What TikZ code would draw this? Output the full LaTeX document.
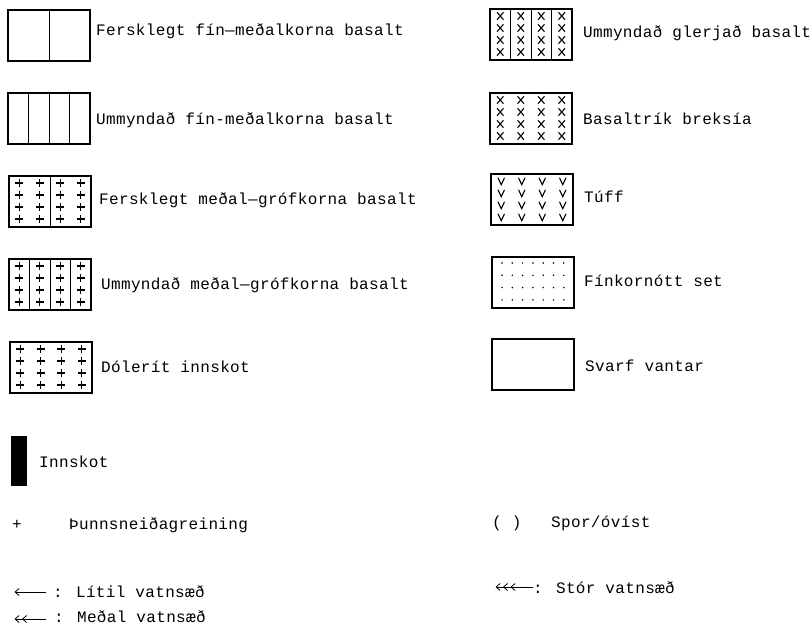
\documentclass[tikz,border=0pt]{standalone}
\usepackage{fontspec}
\newfontfamily\plotfont{Liberation Mono}[LetterSpace=2.2]
\newcommand{\legfont}{\plotfont\fontsize{16}{19}\selectfont}
\usepackage{tikz}
\usetikzlibrary{arrows.meta,calc}

\begin{document}
\begin{tikzpicture}[x=1pt,y=-1pt,
    legbox/.style={draw, line width=1.1pt, minimum width=82pt, minimum height=51pt,
      inner sep=0pt, outer sep=0pt, anchor=north west},
    lbl/.style={font=\legfont, inner sep=0pt, anchor=base west},
    divline/.style={line width=0.8pt},
    flowline/.style={line width=0.8pt},
    vbarb/.tip={Straight Barb[length=4pt,width=7pt,sep=2.5pt]},
    plusmk/.pic={\draw[line width=1.1pt] (-4,0) -- (4,0) (0,-4) -- (0,4);},
    crossmk/.pic={\draw[line width=1.1pt] (-3.2,-3.7) -- (3.2,3.7) (-3.2,3.7) -- (3.2,-3.7);},
    veemk/.pic={\draw[line width=1.1pt] (-3.2,-3.2) -- (0,3.7) -- (3.2,-3.2);},
    dotmk/.pic={\fill (0,0) circle (0.85);}]
\useasboundingbox (0,0) rectangle (812,631);

% Left column
\node[legbox] (ferskfin) at (8,10) {};
\draw[divline] (ferskfin.north) -- (ferskfin.south);
\node[lbl] (ferskfin-txt) at (96,36) {Fersklegt fín—meðalkorna basalt};

\node[legbox] (ummfin) at (8,93) {};
\foreach \k in {1,2,3}
  \draw[divline] ($(ummfin.north west)+(20.5*\k,0)$) -- ($(ummfin.south west)+(20.5*\k,0)$);
\node[lbl] (ummfin-txt) at (96,125) {Ummyndað fín-meðalkorna basalt};

\node[legbox] (ferskgrof) at (9,176) {};
\draw[divline] (ferskgrof.north) -- (ferskgrof.south);
\foreach \i in {0,...,3}
  \foreach \j in {0,...,3}
    \pic at ($(ferskgrof.north west)+(10.25+20.5*\i,7+12*\j)$) {plusmk};
\node[lbl] (ferskgrof-txt) at (99,205) {Fersklegt meðal—grófkorna basalt};

\node[legbox] (ummgrof) at (9,259) {};
\foreach \k in {1,2,3}
  \draw[divline] ($(ummgrof.north west)+(20.5*\k,0)$) -- ($(ummgrof.south west)+(20.5*\k,0)$);
\foreach \i in {0,...,3}
  \foreach \j in {0,...,3}
    \pic at ($(ummgrof.north west)+(10.25+20.5*\i,7+12*\j)$) {plusmk};
\node[lbl] (ummgrof-txt) at (101,290) {Ummyndað meðal—grófkorna basalt};

\node[legbox] (dolerit) at (10,342) {};
\foreach \i in {0,...,3}
  \foreach \j in {0,...,3}
    \pic at ($(dolerit.north west)+(10.25+20.5*\i,7+12*\j)$) {plusmk};
\node[lbl] (dolerit-txt) at (101,373) {Dólerít innskot};

% Right column
\node[legbox] (ummgler) at (490,9) {};
\foreach \k in {1,2,3}
  \draw[divline] ($(ummgler.north west)+(20.5*\k,0)$) -- ($(ummgler.south west)+(20.5*\k,0)$);
\foreach \i in {0,...,3}
  \foreach \j in {0,...,3}
    \pic at ($(ummgler.north west)+(10.25+20.5*\i,7+12*\j)$) {crossmk};
\node[lbl] (ummgler-txt) at (583,38) {Ummyndað glerjað basalt};

\node[legbox] (breksia) at (490,93) {};
\foreach \i in {0,...,3}
  \foreach \j in {0,...,3}
    \pic at ($(breksia.north west)+(10.25+20.5*\i,7+12*\j)$) {crossmk};
\node[lbl] (breksia-txt) at (583,125) {Basaltrík breksía};

\node[legbox] (tuff) at (491,174) {};
\foreach \i in {0,...,3}
  \foreach \j in {0,...,3}
    \pic at ($(tuff.north west)+(10.25+20.5*\i,7+12*\j)$) {veemk};
\node[lbl] (tuff-txt) at (584,203) {Túff};

\node[legbox] (set) at (492,257) {};
\foreach \i in {0,...,6}
  \foreach \j in {0,...,3}
    \pic at ($(set.north west)+(10+10.3*\i,6+12.3*\j)$) {dotmk};
\node[lbl] (set-txt) at (584,287) {Fínkornótt set};

\node[legbox] (svarf) at (492,339) {};
\node[lbl] (svarf-txt) at (585,371) {Svarf vantar};

% Other symbols
\node[fill=black, minimum width=16pt, minimum height=50pt, inner sep=0pt, outer sep=0pt,
  anchor=north west] (innskot) at (11,436) {};
\node[lbl] (innskot-txt) at (39,467) {Innskot};

\node[lbl, anchor=base] (thunn-mk) at (17,529) {+};
\node[lbl] (thunn-txt) at (69,529) {Þunnsneiðagreining};

\node[lbl] (spor-mk) at (492,527) {( )};
\node[lbl] (spor-txt) at (551,527) {Spor/óvíst};

% Water veins
\coordinate (litil-a) at (46,592);
\coordinate (litil-b) at (12,592);
\draw[flowline, -{vbarb[]}] (litil-a) -- (litil-b);
\node[lbl] (litil-txt) at (53,597) {: Lítil vatnsæð};

\coordinate (medal-a) at (46,619);
\coordinate (medal-b) at (12,619);
\draw[flowline, -{vbarb[] vbarb[]}] (medal-a) -- (medal-b);
\node[lbl] (medal-txt) at (54,622) {: Meðal vatnsæð};

\coordinate (stor-a) at (533,587);
\coordinate (stor-b) at (493,587);
\draw[flowline, -{vbarb[] vbarb[] vbarb[]}] (stor-a) -- (stor-b);
\node[lbl] (stor-txt) at (533,593) {: Stór vatnsæð};
\end{tikzpicture}
\end{document}
